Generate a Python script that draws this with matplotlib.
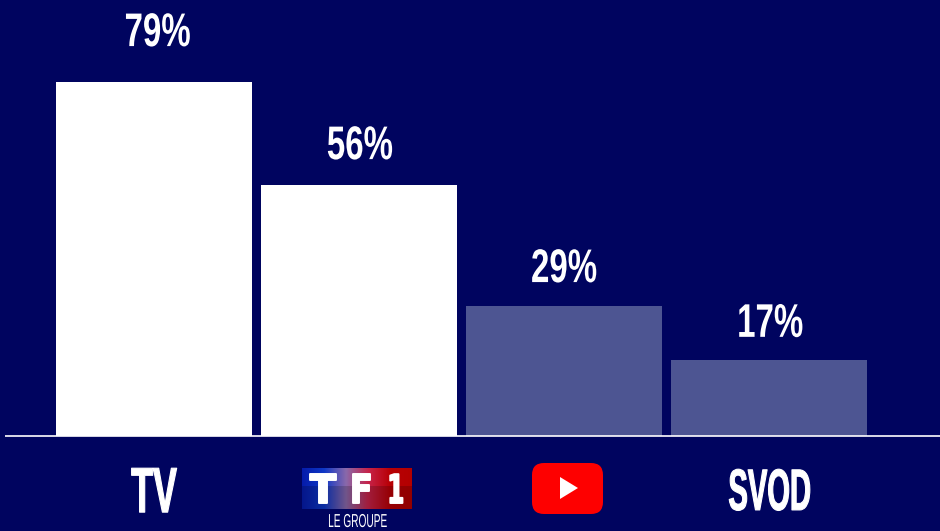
import matplotlib
matplotlib.use('Agg')
import matplotlib.pyplot as plt
import matplotlib.patheffects as pe
import numpy as np
from matplotlib.patches import FancyBboxPatch, Polygon
from matplotlib.transforms import Affine2D

# Data
categories = ['TV', 'TF1', 'YouTube', 'SVOD']
values = [79, 56, 29, 17]
labels = ['79%', '56%', '29%', '17%']

bg = '#00045f'
bar_colors = ['#ffffff', '#ffffff', '#4d5592', '#4d5592']
font = ['Liberation Sans', 'DejaVu Sans']


# No condensed font is installed, so squeeze the text sideways when it is drawn
class Squeeze(pe.AbstractPathEffect):
    def __init__(self, sx, heavy=0):
        super().__init__()
        self.sx = sx
        self.heavy = heavy

    def draw_path(self, renderer, gc, tpath, affine, rgbFace=None):
        ext = affine.transform_path(tpath).get_extents()
        cx = (ext.x0 + ext.x1) / 2
        squeeze = Affine2D().translate(-cx, 0).scale(self.sx, 1).translate(cx, 0)
        gc0 = renderer.new_gc()
        gc0.copy_properties(gc)
        gc0.set_linewidth(self.heavy)
        gc0.set_foreground('white')
        renderer.draw_path(gc0, tpath, affine + squeeze, rgbFace)
        gc0.restore()


fig = plt.figure(figsize=(9.4, 5.31), dpi=100, facecolor=bg)
ax = fig.add_axes([0, 0, 1, 1], facecolor=bg)

# 205 px between bars, 4.48 px per percent
ax.set_xlim(-154 / 205, 786 / 205)
ax.set_ylim(-95 / 4.48, 436 / 4.48)
ax.axis('off')

x = np.arange(len(values))
ax.bar(x, values, width=195.5 / 205, color=bar_colors, linewidth=0)
ax.plot([-149 / 205, 786 / 205], [0, 0], color='white', linewidth=1.2, solid_capstyle='butt')

# Value labels, baseline gap above each bar in px
label_dx = [3.5, 1, 0, 1]
label_gap = [36, 26, 24, 23]
for xi, v, lab, dx, gap in zip(x, values, labels, label_dx, label_gap):
    ax.text(xi + dx / 205, v + gap / 4.48, lab, color='white', fontsize=34, fontweight='bold',
            family=font, ha='center', va='baseline', path_effects=[Squeeze(0.70)])

# Category labels
ax.text(0, -17, 'TV', color='white', fontsize=46, fontweight='bold', family=font,
        ha='center', va='baseline', path_effects=[Squeeze(0.56, 0.8)])
ax.text(3.005, -16.5, 'SVOD', color='white', fontsize=42, fontweight='bold', family=font,
        ha='center', va='baseline', path_effects=[Squeeze(0.50, 0.8)])

# Logos, drawn on an overlay in pixel coordinates
lx = fig.add_axes([0, 0, 1, 1], facecolor='none')

# TF1 logo
grad = np.array([[0.02, 0.10, 0.62], [0.05, 0.20, 0.72], [0.50, 0.38, 0.62],
                 [0.72, 0.13, 0.27], [0.67, 0.0, 0.02], [0.65, 0.0, 0.0]])
stops = np.linspace(0, 1, len(grad))
t = np.linspace(0, 1, 220)
row = np.stack([np.interp(t, stops, grad[:, i]) for i in range(3)], axis=1)
shade = np.where(np.linspace(0, 1, 41) < 0.45, 1.08, 0.88)[:, None, None]
img = np.clip(row[None, :, :] * shade, 0, 1)
lx.imshow(img, extent=[302, 412, 509, 468], aspect='auto', zorder=2)
lx.set_xlim(0, 940)
lx.set_ylim(531, 0)
lx.axis('off')
for tx, letter, sx in zip([323, 361.5, 395.5], ['T', 'F', '1'], [1.0, 0.82, 0.6]):
    lx.text(tx, 503, letter, color='white', fontsize=28.5, fontweight='bold',
            family=['DejaVu Sans'], ha='center', va='baseline', zorder=3,
            path_effects=[Squeeze(sx, 1.4)])
lx.text(357.5, 527, 'LE GROUPE', color='white', fontsize=13.5, family=font,
        ha='center', va='baseline', zorder=3, path_effects=[Squeeze(0.54)])

# YouTube logo
lx.add_patch(FancyBboxPatch((532, 463), 71, 51, boxstyle='round,pad=0,rounding_size=12',
                            facecolor='#fe0000', edgecolor='none', zorder=2))
lx.add_patch(Polygon([[560, 477], [560, 499], [578, 488]], closed=True,
                     facecolor='white', edgecolor='none', zorder=3))

fig.savefig('out.png', dpi=100, facecolor=bg)
